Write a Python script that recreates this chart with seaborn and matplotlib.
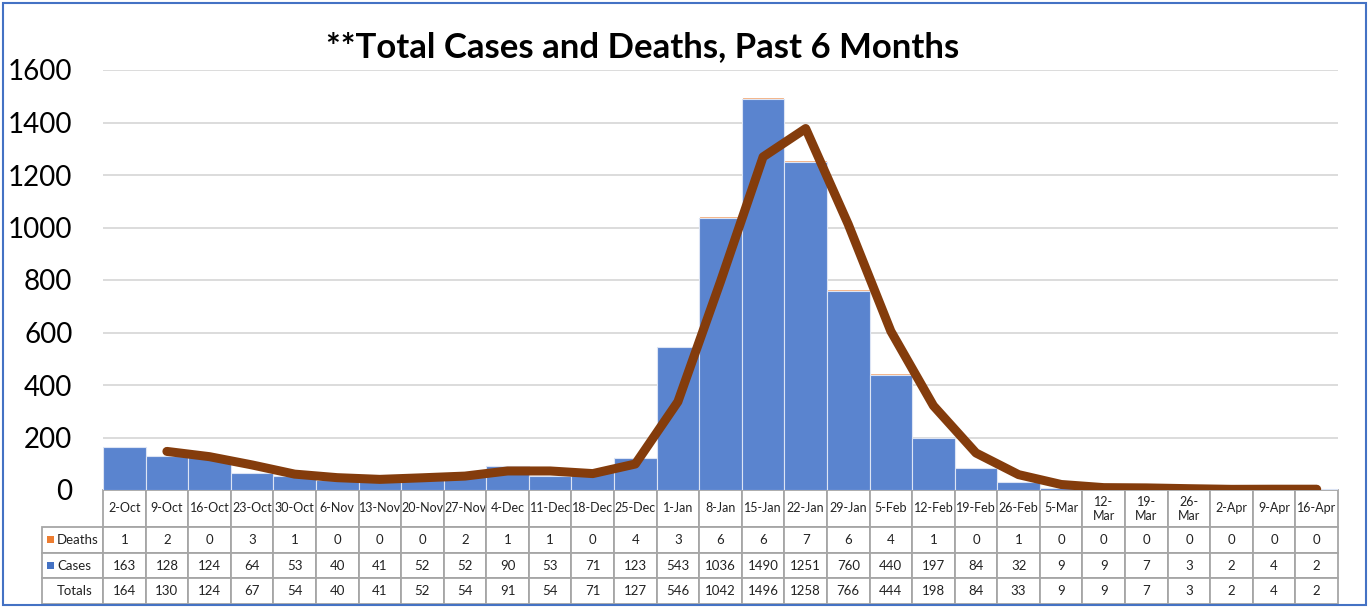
import numpy as np
import pandas as pd
import matplotlib
matplotlib.use("Agg")
import matplotlib.pyplot as plt
from matplotlib.patches import Rectangle
import seaborn as sns

# ---- data ----
dates = ["2-Oct", "9-Oct", "16-Oct", "23-Oct", "30-Oct", "6-Nov", "13-Nov", "20-Nov",
         "27-Nov", "4-Dec", "11-Dec", "18-Dec", "25-Dec", "1-Jan", "8-Jan", "15-Jan",
         "22-Jan", "29-Jan", "5-Feb", "12-Feb", "19-Feb", "26-Feb", "5-Mar", "12-Mar",
         "19-Mar", "26-Mar", "2-Apr", "9-Apr", "16-Apr"]
date_labels = ["2-Oct", "9-Oct", "16-Oct", "23-Oct", "30-Oct", "6-Nov", "13-Nov", "20-Nov",
               "27-Nov", "4-Dec", "11-Dec", "18-Dec", "25-Dec", "1-Jan", "8-Jan", "15-Jan",
               "22-Jan", "29-Jan", "5-Feb", "12-Feb", "19-Feb", "26-Feb", "5-Mar", "12-\nMar",
               "19-\nMar", "26-\nMar", "2-Apr", "9-Apr", "16-Apr"]
deaths = [1, 2, 0, 3, 1, 0, 0, 0, 2, 1, 1, 0, 4, 3, 6, 6, 7, 6, 4, 1, 0, 1, 0, 0, 0, 0, 0, 0, 0]
cases = [163, 128, 124, 64, 53, 40, 41, 52, 52, 90, 53, 71, 123, 543, 1036, 1490, 1251, 760,
         440, 197, 84, 32, 9, 9, 7, 3, 2, 4, 2]
totals = [164, 130, 124, 67, 54, 40, 41, 52, 54, 91, 54, 71, 127, 546, 1042, 1496, 1258, 766,
          444, 198, 84, 33, 9, 9, 7, 3, 2, 4, 2]
# 2-period moving-average trendline (starts at 9-Oct)
trend_dates = dates[1:]
trend = [147, 127, 95.5, 60.5, 47, 40.5, 46.5, 53, 72.5, 72.5, 62.5, 99, 336.5, 794, 1269,
         1377, 1012, 605, 321, 141, 58.5, 21, 9, 8, 5, 2.5, 3, 3]
row_names = ["Deaths", "Cases", "Totals"]
title = "**Total Cases and Deaths, Past 6 Months"

BLUE = "#5A84CF"
ORANGE = "#F4B183"
ORANGE_MARK = "#ED7D31"
BROWN = "#843C0C"

sns.set_theme(style="white")
plt.rcParams["font.family"] = ["Lato", "DejaVu Sans"]

W, H = 1369, 608
fig = plt.figure(figsize=(W / 100, H / 100), dpi=100)
L, R, T, B = 103, 1338, 70, 490
ax = fig.add_axes([L / W, 1 - B / H, (R - L) / W, (B - T) / H])

df = pd.DataFrame({"date": dates, "cases": cases, "deaths": deaths, "totals": totals})

sns.barplot(data=df, x="date", y="totals", order=dates, color=ORANGE, saturation=1,
            width=1.0, edgecolor="white", linewidth=0.8, ax=ax, zorder=2)
sns.barplot(data=df, x="date", y="cases", order=dates, color=BLUE, saturation=1,
            width=1.0, edgecolor="#DCE4F4", linewidth=0.8, ax=ax, zorder=3)

tdf = pd.DataFrame({"pos": [dates.index(d) for d in trend_dates], "trend": trend})
sns.lineplot(data=tdf, x="pos", y="trend", color=BROWN, linewidth=6.5, ax=ax,
             solid_capstyle="round", solid_joinstyle="round", zorder=4)

ax.set_xlim(-0.5, len(dates) - 0.5)
ax.set_ylim(0, 1600)
ax.set_yticks(np.arange(0, 1601, 200))
ax.tick_params(axis="y", labelsize=20, pad=22, length=0, labelcolor="black")
ax.set_xticks([])
ax.set_xlabel("")
ax.set_ylabel("")
ax.yaxis.grid(True, color="#D9D9D9", linewidth=1.3, zorder=0)
ax.set_axisbelow(True)
for s in ax.spines.values():
    s.set_visible(False)

# ---- data table ----
tx0, tx1, ty0, ty1 = 42, 1338, 490, 604
label_w = 61
col_w = (R - L) / len(dates)
hdr_h = 37
row_h = (ty1 - ty0 - hdr_h) / 3

cell_text = [[""] + date_labels,
             [""] + [str(v) for v in deaths],
             [""] + [str(v) for v in cases],
             [""] + [str(v) for v in totals]]
bbox = [(tx0 - L) / (R - L), -(ty1 - B) / (B - T), (tx1 - tx0) / (R - L), (ty1 - ty0) / (B - T)]
tbl = ax.table(cellText=cell_text, cellLoc="center", bbox=bbox)
tbl.auto_set_font_size(False)
tbl.set_fontsize(9.5)
for (r, c), cell in tbl.get_celld().items():
    cell.set_width(label_w if c == 0 else col_w)
    cell.set_height(hdr_h if r == 0 else row_h)
    cell.set_edgecolor("#A6A6A6")
    cell.set_linewidth(1.3)
    cell.set_facecolor("white")
    cell.get_text().set_color("#222222")
    if r == 0:
        cell.get_text().set_fontsize(9)
    if r == 0 and c == 0:
        cell.visible_edges = ""

# row labels with legend markers
for i, name in enumerate(row_names):
    yc = ty0 + hdr_h + row_h * (i + 0.5)
    fig.text(57 / W, 1 - yc / H, name, ha="left", va="center", fontsize=9.5, color="#222222")
marks = [ORANGE_MARK, "#4472C4"]
for i, col in enumerate(marks):
    yc = ty0 + hdr_h + row_h * (i + 0.5)
    fig.patches.append(Rectangle(((47) / W, 1 - (yc + 3.5) / H), 7 / W, 7 / H,
                                 transform=fig.transFigure, facecolor=col, edgecolor="none"))

fig.text(643 / W, 1 - 47 / H, title, ha="center", va="center", fontsize=25,
         fontweight="bold", color="black")

# outer border
fig.patches.append(Rectangle((3 / W, 3 / H), (W - 6) / W, (H - 6) / H,
                             transform=fig.transFigure, fill=False,
                             edgecolor="#4472C4", linewidth=1.5))

fig.savefig("out.png", dpi=100)
